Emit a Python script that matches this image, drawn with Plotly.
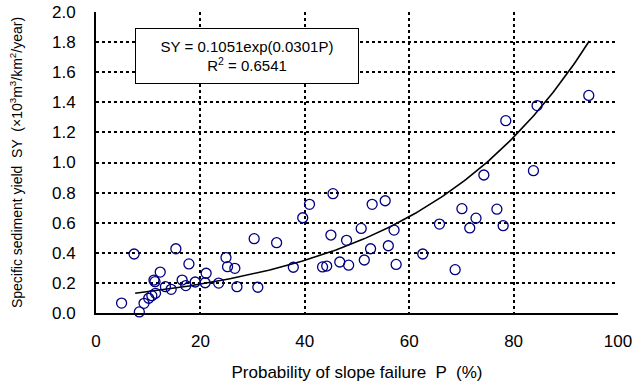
import numpy as np
import plotly.graph_objects as go

# Observed data: probability of slope failure P (%) vs specific sediment yield SY
P = [4.9, 7.3, 8.3, 9.2, 10.1, 10.7, 11.4, 11.1, 11.3, 12.3, 13.3, 14.4, 15.3, 16.5,
     17.2, 17.8, 19.0, 21.1, 20.9, 23.5, 24.9, 25.2, 26.6, 27.0, 30.3, 31.0, 34.6,
     37.8, 39.6, 40.9, 43.4, 44.2, 45.0, 45.4, 46.7, 48.0, 48.4, 50.8, 51.4, 52.6,
     52.9, 55.4, 56.0, 57.1, 57.5, 62.6, 65.8, 68.8, 70.1, 71.6, 72.8, 74.3, 76.8,
     78.0, 78.5, 83.8, 84.5, 94.4]
SY = [0.066, 0.392, 0.007, 0.064, 0.098, 0.115, 0.131, 0.219, 0.208, 0.272, 0.175,
      0.157, 0.427, 0.219, 0.182, 0.326, 0.206, 0.264, 0.201, 0.199, 0.368, 0.308,
      0.297, 0.175, 0.494, 0.171, 0.467, 0.304, 0.633, 0.722, 0.306, 0.312, 0.518,
      0.793, 0.339, 0.483, 0.318, 0.562, 0.352, 0.427, 0.722, 0.746, 0.447, 0.551,
      0.323, 0.392, 0.591, 0.288, 0.693, 0.565, 0.630, 0.917, 0.690, 0.580, 1.278,
      0.946, 1.378, 1.446]

# Fitted regression SY = a*exp(b*P)
fit_a = 0.1051
fit_b = 0.0301
fit_P_range = [7.5, 94.5]
eq_text = "SY = 0.1051exp(0.0301P)"
r2_text = "R<sup>2</sup> = 0.6541"

x_ticks = [0, 20, 40, 60, 80, 100]
y_ticks = [0.0, 0.2, 0.4, 0.6, 0.8, 1.0, 1.2, 1.4, 1.6, 1.8, 2.0]

fit_x = np.linspace(fit_P_range[0], fit_P_range[1], 200)
fit_y = fit_a * np.exp(fit_b * fit_x)

font = "Liberation Sans, Arial, sans-serif"

fig = go.Figure()
fig.add_trace(go.Scatter(
    x=fit_x, y=fit_y, mode="lines",
    line=dict(color="black", width=1.6),
    showlegend=False, hoverinfo="skip"))
fig.add_trace(go.Scatter(
    x=P, y=SY, mode="markers",
    marker=dict(symbol="circle-open", size=10, color="#000080",
                line=dict(width=1.3, color="#000080")),
    cliponaxis=False, showlegend=False))

grid = dict(showgrid=True, gridcolor="black", gridwidth=2, griddash="dot")

fig.update_xaxes(
    range=[0, 100], tickvals=x_ticks, ticktext=[str(v) for v in x_ticks],
    showline=True, linecolor="black", linewidth=2, zeroline=False,
    ticks="", ticklabelstandoff=12, automargin=False,
    tickfont=dict(family=font, size=17, color="black"),
    title=dict(text="Probability of slope failure  P  (%)", standoff=16,
               font=dict(family=font, size=17, color="black")),
    **grid)
fig.update_yaxes(
    range=[0, 2.0], tickvals=y_ticks, ticktext=[f"{v:.1f}" for v in y_ticks],
    showline=True, linecolor="black", linewidth=2, zeroline=False,
    ticks="", ticklabelstandoff=15, automargin=False,
    tickfont=dict(family=font, size=17, color="black"),
    title=dict(text="Specific sediment yield  SY  (×10<sup>3</sup>m<sup>3</sup>/km<sup>2</sup>/year)",
               standoff=26, font=dict(family=font, size=14, color="black")),
    **grid)

fig.add_annotation(
    xref="paper", yref="paper", x=(247 - 96) / 522, y=(313 - 56) / 301,
    text=eq_text + "<br>" + r2_text, showarrow=False,
    font=dict(family=font, size=15, color="black"),
    bgcolor="white", bordercolor="black", borderwidth=1,
    width=220, height=52, align="center", xanchor="center", yanchor="middle")

fig.update_layout(
    width=643, height=384,
    margin=dict(l=96, r=25, t=12, b=71),
    paper_bgcolor="white", plot_bgcolor="white",
    font=dict(family=font, size=14, color="black"),
)

fig.write_html("out.html")
